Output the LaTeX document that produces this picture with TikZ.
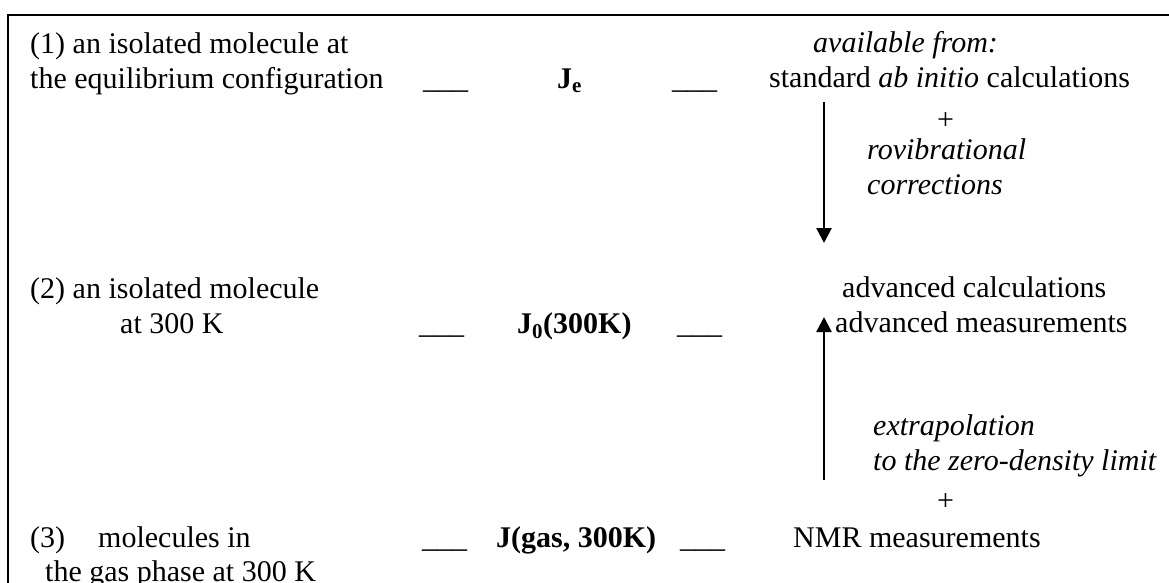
\documentclass[tikz,border=0pt]{standalone}
\usepackage{fontspec}
\setmainfont{Liberation Serif}
\usetikzlibrary{arrows.meta,positioning}

\begin{document}
\begin{tikzpicture}[
    x=1pt, y=-1pt,
    txt/.style={anchor=base west, inner sep=0pt, font=\fontsize{30}{35}\selectfont},
    itxt/.style={txt, font=\fontsize{30}{35}\selectfont\itshape},
    bold/.style={txt, font=\fontsize{30}{35}\selectfont\bfseries},
    flow/.style={-{Triangle[width=15pt,length=15pt]}, line width=2.6pt},
    frame/.style={line width=1.5pt}
]
    \useasboundingbox (0,0) rectangle (1169,583);
    \clip (0,0) rectangle (1169,583);

    % Outer frame (runs off the page at right and bottom)
    \draw[frame] (8,15) rectangle (1200,640);

    % Left column: the three states
    \node[txt] (s1a) at (30,54) {(1) an isolated molecule at};
    \node[txt] (s1b) at (30,89) {the equilibrium configuration};
    \node[txt] (s2a) at (30,298) {(2) an isolated molecule};
    \node[txt] (s2b) at (120,333) {at 300 K};
    \node[txt] (s3a) at (30,547) {(3)\hspace{1.1em}molecules in};
    \node[txt] (s3b) at (45,581) {the gas phase at 300 K};

    % Middle column: coupling constants
    \node[txt] (b1l) at (423,89) {\_\_\_};
    \node[bold] (je) at (557,89) {J\textsubscript{e}};
    \node[txt] (b1r) at (672,89) {\_\_\_};
    \node[txt] (b2l) at (419,333) {\_\_\_};
    \node[bold] (j0) at (517,333) {J\textsubscript{0}(300K)};
    \node[txt] (b2r) at (677,333) {\_\_\_};
    \node[txt] (b3l) at (422,547) {\_\_\_};
    \node[bold] (jg) at (496,547) {J(gas, 300K)};
    \node[txt] (b3r) at (680,547) {\_\_\_};

    % Right column: where the values come from
    \node[itxt] (avail) at (813,53) {available from:};
    \node[txt] (std) at (769,88) {standard \textit{ab initio} calculations};
    \node[txt] (plus1) at (937,130) {+};
    \node[itxt] (rovib) at (867,159) {rovibrational};
    \node[itxt] (corr) at (867,194) {corrections};
    \node[txt] (advc) at (842,297) {advanced calculations};
    \node[txt] (advm) at (835,332) {advanced measurements};
    \node[itxt] (extra) at (873,435) {extrapolation};
    \node[itxt] (zero) at (873,470) {to the zero-density limit};
    \node[txt] (plus2) at (937,510) {+};
    \node[txt] (nmr) at (793,547) {NMR measurements};

    % Arrows
    \coordinate (d1) at (824,102);
    \coordinate (d2) at (824,243);
    \coordinate (u1) at (824,480);
    \coordinate (u2) at (824,317);
    \draw[flow] (d1) -- (d2);
    \draw[flow] (u1) -- (u2);
\end{tikzpicture}
\end{document}
